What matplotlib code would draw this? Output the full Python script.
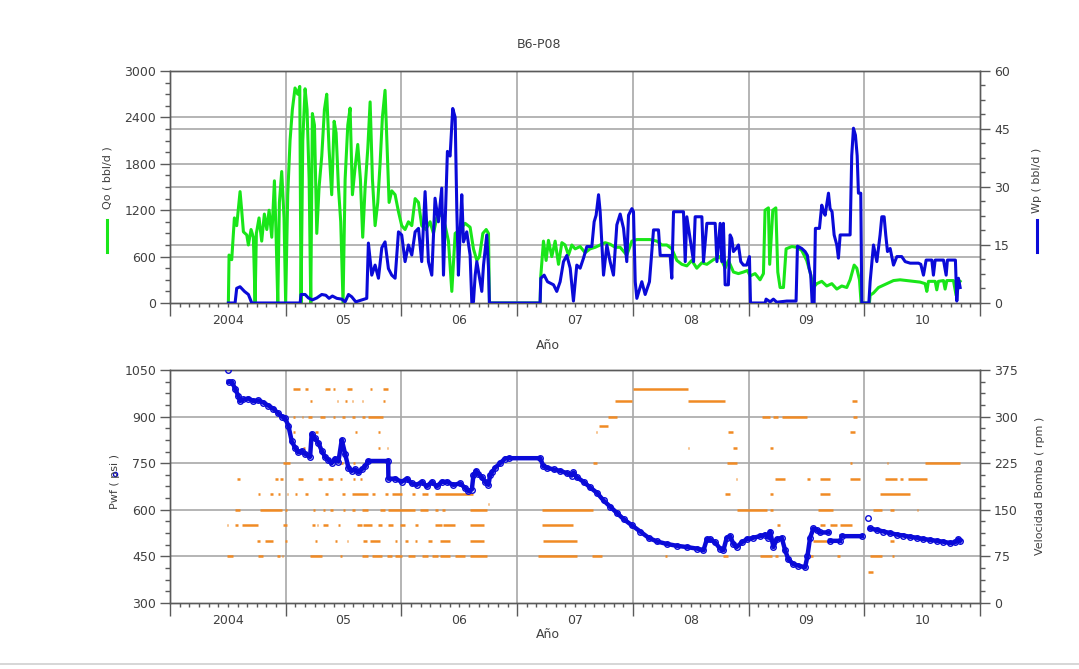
import numpy as np
import matplotlib
matplotlib.use('Agg')
import matplotlib.pyplot as plt
from matplotlib.ticker import FixedLocator, MultipleLocator, AutoMinorLocator, NullFormatter
from matplotlib.lines import Line2D
import matplotlib.transforms as mtransforms

plt.rcParams['font.family'] = ['DejaVu Sans']

# ---------------- data ----------------
year_bounds = [2004, 2005, 2006, 2007, 2008, 2009, 2010, 2011]
year_labels = ['2004', '05', '06', '07', '08', '09', '10']

qo_ticks = [0, 600, 1200, 1800, 2400, 3000]
wp_ticks = [0, 15, 30, 45, 60]
pwf_ticks = [300, 450, 600, 750, 900, 1050]
rpm_ticks = [0, 75, 150, 225, 300, 375]

# Qo (bbl/d) - green
qo_data = [
    (2004.504, 0), (2004.510, 620), (2004.533, 560), (2004.556, 1100), (2004.576, 1000),
    (2004.605, 1440), (2004.619, 1200), (2004.634, 920), (2004.663, 880), (2004.677, 750),
    (2004.700, 950), (2004.720, 850), (2004.735, 0), (2004.746, 900), (2004.769, 1100),
    (2004.792, 800), (2004.815, 1150), (2004.836, 950), (2004.856, 1200), (2004.879, 850),
    (2004.902, 1580), (2004.916, 900), (2004.931, 0), (2004.945, 1300), (2004.965, 1700),
    (2004.985, 1100), (2004.999, 0), (2005.017, 1400), (2005.037, 2100), (2005.057, 2500),
    (2005.080, 2780), (2005.103, 2700), (2005.121, 2800), (2005.132, 0), (2005.147, 2100),
    (2005.167, 2770), (2005.184, 2500), (2005.202, 1600), (2005.216, 0), (2005.230, 2450),
    (2005.248, 2300), (2005.268, 900), (2005.288, 1500), (2005.311, 1900), (2005.334, 2500),
    (2005.354, 2700), (2005.374, 2000), (2005.397, 1400), (2005.418, 2350), (2005.435, 2200),
    (2005.455, 1500), (2005.475, 1050), (2005.495, 0), (2005.513, 1600), (2005.536, 2300),
    (2005.556, 2520), (2005.576, 1400), (2005.599, 1750), (2005.622, 2050), (2005.645, 1600),
    (2005.665, 850), (2005.686, 1500), (2005.709, 2000), (2005.729, 2600), (2005.749, 1600),
    (2005.772, 1000), (2005.795, 1300), (2005.815, 1800), (2005.835, 2400), (2005.858, 2750),
    (2005.876, 2000), (2005.893, 1300), (2005.916, 1450), (2005.945, 1400), (2005.974, 1180),
    (2006.002, 1000), (2006.031, 950), (2006.060, 1050), (2006.089, 1000), (2006.118, 1350),
    (2006.147, 1300), (2006.175, 1000), (2006.210, 950), (2006.247, 1050), (2006.276, 900),
    (2006.305, 1100), (2006.348, 1150), (2006.377, 1000), (2006.406, 800), (2006.435, 150),
    (2006.464, 900), (2006.507, 950), (2006.550, 1030), (2006.593, 980), (2006.622, 700),
    (2006.651, 550), (2006.674, 600), (2006.703, 900), (2006.732, 950), (2006.752, 900),
    (2006.760, 0), (2007.198, 0), (2007.204, 350), (2007.227, 800), (2007.250, 550),
    (2007.270, 810), (2007.299, 600), (2007.328, 800), (2007.357, 500), (2007.386, 780),
    (2007.414, 750), (2007.443, 620), (2007.472, 750), (2007.501, 700), (2007.544, 730),
    (2007.587, 650), (2007.630, 700), (2007.674, 720), (2007.717, 750), (2007.760, 780),
    (2007.803, 760), (2007.847, 720), (2007.890, 720), (2007.947, 620), (2007.991, 800),
    (2008.034, 820), (2008.091, 820), (2008.149, 820), (2008.207, 800), (2008.250, 750),
    (2008.293, 750), (2008.336, 700), (2008.380, 550), (2008.423, 500), (2008.466, 480),
    (2008.509, 550), (2008.552, 450), (2008.596, 520), (2008.639, 500), (2008.696, 560),
    (2008.753, 600), (2008.797, 450), (2008.825, 550), (2008.869, 400), (2008.912, 380),
    (2008.955, 400), (2008.990, 420), (2009.013, 350), (2009.056, 380), (2009.099, 300),
    (2009.128, 380), (2009.142, 1200), (2009.171, 1230), (2009.182, 500), (2009.209, 1200),
    (2009.235, 1230), (2009.252, 400), (2009.272, 200), (2009.301, 200), (2009.324, 700),
    (2009.373, 730), (2009.416, 720), (2009.459, 680), (2009.502, 550), (2009.531, 400),
    (2009.560, 200), (2009.589, 250), (2009.632, 280), (2009.675, 220), (2009.719, 250),
    (2009.762, 180), (2009.805, 220), (2009.848, 200), (2009.877, 300), (2009.912, 490),
    (2009.935, 450), (2009.958, 300), (2009.972, 0), (2010.044, 0), (2010.050, 100),
    (2010.079, 130), (2010.122, 200), (2010.165, 230), (2010.208, 260), (2010.252, 290),
    (2010.309, 300), (2010.367, 290), (2010.424, 280), (2010.482, 270), (2010.525, 250),
    (2010.540, 150), (2010.554, 280), (2010.612, 280), (2010.626, 170), (2010.640, 280),
    (2010.684, 290), (2010.698, 180), (2010.713, 290), (2010.770, 290), (2010.793, 100),
    (2010.813, 250), (2010.828, 280),
]

# Wp (bbl/d) - blue
wp_data = [
    (2004.504, 0), (2004.562, 0), (2004.576, 3.8), (2004.605, 4.2), (2004.643, 3.0),
    (2004.677, 2.2), (2004.706, 0), (2005.124, 0), (2005.132, 2.2), (2005.167, 2.2),
    (2005.196, 1.3), (2005.230, 0.8), (2005.268, 1.3), (2005.311, 2.2), (2005.346, 2.0),
    (2005.374, 1.2), (2005.403, 1.8), (2005.441, 1.2), (2005.484, 1.0), (2005.513, 0.3),
    (2005.542, 2.2), (2005.570, 1.6), (2005.605, 0.3), (2005.657, 0.8), (2005.700, 1.2),
    (2005.714, 15.5), (2005.743, 7.2), (2005.772, 9.8), (2005.801, 6.4), (2005.830, 14.3),
    (2005.858, 15.8), (2005.887, 8.9), (2005.916, 7.2), (2005.945, 6.4), (2005.974, 18.4),
    (2006.002, 17.6), (2006.031, 10.7), (2006.060, 15.0), (2006.089, 12.4), (2006.118, 18.4),
    (2006.147, 19.3), (2006.175, 10.7), (2006.204, 28.8), (2006.233, 10.7), (2006.262, 7.2),
    (2006.290, 27.1), (2006.319, 21.0), (2006.348, 29.7), (2006.363, 7.2), (2006.397, 39.2),
    (2006.420, 38.0), (2006.443, 50.3), (2006.464, 48.0), (2006.478, 24.4), (2006.492, 7.2),
    (2006.507, 18.4), (2006.521, 28.0), (2006.536, 15.8), (2006.564, 18.4), (2006.593, 12.4),
    (2006.608, 0), (2006.622, 0.3), (2006.637, 7.2), (2006.651, 10.7), (2006.680, 5.5),
    (2006.694, 3.0), (2006.709, 9.8), (2006.737, 17.6), (2006.752, 9.0), (2006.760, 0),
    (2007.198, 0), (2007.204, 6.4), (2007.233, 7.2), (2007.262, 5.5), (2007.314, 4.7),
    (2007.342, 3.0), (2007.371, 5.5), (2007.400, 10.7), (2007.429, 12.3), (2007.458, 9.0),
    (2007.486, 0.5), (2007.515, 9.8), (2007.544, 9.0), (2007.573, 11.6), (2007.602, 14.6),
    (2007.645, 14.6), (2007.665, 21.0), (2007.682, 22.7), (2007.703, 28.0), (2007.717, 23.6),
    (2007.746, 7.2), (2007.775, 15.0), (2007.803, 10.7), (2007.832, 7.2), (2007.861, 20.2),
    (2007.890, 23.0), (2007.919, 19.3), (2007.947, 10.7), (2007.962, 22.7), (2007.991, 24.4),
    (2008.005, 23.6), (2008.020, 5.5), (2008.034, 1.2), (2008.077, 5.5), (2008.106, 2.2),
    (2008.143, 5.5), (2008.178, 18.9), (2008.221, 18.9), (2008.236, 12.3), (2008.322, 12.3),
    (2008.336, 6.4), (2008.351, 23.6), (2008.437, 23.6), (2008.452, 10.7), (2008.466, 22.3),
    (2008.524, 10.7), (2008.538, 22.3), (2008.596, 22.3), (2008.610, 10.7), (2008.639, 20.6),
    (2008.711, 20.6), (2008.726, 10.7), (2008.754, 20.6), (2008.768, 10.7), (2008.782, 20.6),
    (2008.797, 4.7), (2008.825, 4.7), (2008.840, 17.6), (2008.854, 16.7), (2008.869, 13.3),
    (2008.892, 14.1), (2008.912, 15.0), (2008.932, 10.7), (2008.955, 9.8), (2008.984, 9.8),
    (2009.007, 12.0), (2009.016, 0), (2009.142, 0), (2009.151, 1.0), (2009.186, 0.3),
    (2009.214, 1.0), (2009.243, 0.2), (2009.330, 0.5), (2009.410, 0.5), (2009.422, 14.7),
    (2009.459, 14.1), (2009.488, 13.3), (2009.508, 12.3), (2009.523, 9.0), (2009.537, 7.2),
    (2009.549, 0), (2009.566, 0), (2009.577, 19.3), (2009.612, 19.3), (2009.632, 25.3),
    (2009.647, 23.6), (2009.661, 22.7), (2009.690, 28.4), (2009.704, 24.4), (2009.721, 23.6),
    (2009.739, 17.6), (2009.762, 15.0), (2009.776, 11.6), (2009.791, 17.6), (2009.877, 17.6),
    (2009.891, 38.1), (2009.906, 45.2), (2009.923, 43.4), (2009.938, 38.1), (2009.949, 28.4),
    (2009.969, 28.4), (2009.978, 0), (2010.039, 0), (2010.050, 5.5), (2010.079, 15.0),
    (2010.108, 10.7), (2010.136, 17.6), (2010.151, 22.3), (2010.171, 22.3), (2010.185, 17.6),
    (2010.200, 13.3), (2010.223, 14.1), (2010.252, 9.8), (2010.281, 12.0), (2010.323, 12.0),
    (2010.353, 10.7), (2010.396, 10.3), (2010.468, 10.3), (2010.488, 10.0), (2010.511, 7.2),
    (2010.534, 11.1), (2010.583, 11.1), (2010.597, 7.2), (2010.612, 11.1), (2010.684, 11.1),
    (2010.707, 7.2), (2010.718, 11.1), (2010.787, 11.1), (2010.799, 0.5), (2010.813, 6.4),
    (2010.828, 4.0),
]

# Pwf (psi) - blue circles  (nan = gap)
pwf_data = [
    (2004.500, 1050), (2004.504, np.nan), (2004.506, 1012), (2004.533, 1012), (2004.562, 990),
    (2004.591, 965), (2004.605, 950), (2004.634, 955), (2004.677, 958), (2004.720, 950),
    (2004.764, 952), (2004.807, 945), (2004.850, 935), (2004.893, 925), (2004.936, 910),
    (2004.965, 900), (2004.994, 895), (2005.023, 870), (2005.052, 820), (2005.080, 800),
    (2005.109, 785), (2005.138, 790), (2005.167, 780), (2005.210, 770), (2005.224, 845),
    (2005.253, 830), (2005.282, 815), (2005.311, 790), (2005.340, 770), (2005.369, 760),
    (2005.397, 750), (2005.426, 765), (2005.455, 755), (2005.484, 825), (2005.513, 780),
    (2005.542, 735), (2005.570, 725), (2005.599, 730), (2005.628, 720), (2005.657, 730),
    (2005.686, 740), (2005.714, 757), (2005.885, 757), (2005.887, 700), (2005.945, 700),
    (2006.002, 690), (2006.046, 700), (2006.089, 685), (2006.132, 680), (2006.175, 690),
    (2006.218, 675), (2006.262, 690), (2006.305, 675), (2006.348, 690), (2006.392, 690),
    (2006.449, 680), (2006.507, 685), (2006.550, 670), (2006.579, 660), (2006.608, 665),
    (2006.622, 712), (2006.645, 725), (2006.665, 715), (2006.694, 705), (2006.723, 690),
    (2006.752, 680), (2006.766, 712), (2006.781, 720), (2006.809, 735), (2006.853, 750),
    (2006.896, 765), (2006.925, 766), (2007.198, 766), (2007.227, 740), (2007.256, 735),
    (2007.314, 730), (2007.371, 725), (2007.429, 718), (2007.472, 710), (2007.486, 720),
    (2007.515, 705), (2007.573, 690), (2007.630, 672), (2007.688, 655), (2007.746, 630),
    (2007.803, 610), (2007.861, 590), (2007.919, 570), (2007.991, 550), (2008.063, 530),
    (2008.135, 510), (2008.207, 498), (2008.293, 490), (2008.380, 484), (2008.466, 480),
    (2008.552, 475), (2008.610, 470), (2008.639, 505), (2008.667, 505), (2008.710, 495),
    (2008.753, 475), (2008.782, 470), (2008.811, 510), (2008.840, 515), (2008.869, 490),
    (2008.897, 480), (2008.941, 495), (2008.984, 505), (2009.041, 510), (2009.099, 515),
    (2009.142, 520), (2009.171, 510), (2009.186, 530), (2009.214, 480), (2009.243, 505),
    (2009.286, 510), (2009.315, 470), (2009.344, 440), (2009.387, 425), (2009.430, 420),
    (2009.488, 415), (2009.508, 450), (2009.531, 510), (2009.560, 540), (2009.589, 535),
    (2009.618, 527), (2009.690, 527), (2009.700, np.nan), (2009.704, 500), (2009.791, 500),
    (2009.798, np.nan), (2009.805, 515), (2009.978, 515), (2010.000, np.nan), (2010.035, 575),
    (2010.042, np.nan), (2010.050, 540), (2010.108, 535), (2010.165, 530), (2010.223, 525),
    (2010.281, 520), (2010.338, 517), (2010.396, 513), (2010.453, 510), (2010.511, 506),
    (2010.568, 503), (2010.626, 500), (2010.684, 497), (2010.741, 493), (2010.784, 495),
    (2010.813, 505), (2010.828, 500),
]

# Velocidad Bomba (rpm) - orange dashes: (start year, end year) per level
vb_345 = [(2005.066, 2005.124), (2005.167, 2005.196), (2005.340, 2005.383), (2005.412, 2005.426),
          (2005.527, 2005.570), (2005.729, 2005.743), (2005.844, 2005.887), (2008.005, 2008.480)]
vb_325 = [(2005.210, 2005.224), (2005.441, 2005.455), (2005.513, 2005.527), (2005.570, 2005.585),
          (2005.657, 2005.671), (2005.844, 2005.858), (2007.847, 2007.991), (2008.480, 2008.797),
          (2009.891, 2009.935)]
vb_300 = [(2005.066, 2005.081), (2005.138, 2005.153), (2005.196, 2005.224), (2005.297, 2005.340),
          (2005.412, 2005.426), (2005.484, 2005.513), (2005.570, 2005.599), (2005.657, 2005.686),
          (2005.714, 2005.844), (2007.789, 2007.861), (2009.113, 2009.186), (2009.214, 2009.257),
          (2009.286, 2009.502), (2009.906, 2009.935)]
vb_285 = [(2007.703, 2007.789)]
vb_275 = [(2005.066, 2005.081), (2005.253, 2005.282), (2005.599, 2005.614), (2005.801, 2005.815),
          (2007.684, 2007.692), (2008.825, 2008.869), (2009.877, 2009.920)]
vb_250 = [(2005.153, 2005.167), (2005.484, 2005.498), (2005.801, 2005.815), (2005.873, 2005.887),
          (2008.476, 2008.484), (2008.869, 2008.897), (2009.186, 2009.214)]
vb_225 = [(2004.980, 2005.037), (2005.469, 2005.498), (2005.585, 2005.599), (2007.659, 2007.688),
          (2008.811, 2008.897), (2009.877, 2009.891), (2010.194, 2010.208), (2010.525, 2010.828)]
vb_200 = [(2004.576, 2004.605), (2004.908, 2004.936), (2004.951, 2004.980), (2005.109, 2005.153),
          (2005.282, 2005.311), (2005.369, 2005.412), (2005.469, 2005.484), (2005.585, 2005.599),
          (2005.642, 2005.657), (2008.893, 2008.901), (2009.229, 2009.315), (2009.502, 2009.531),
          (2009.618, 2009.704), (2009.877, 2009.963), (2010.179, 2010.281), (2010.309, 2010.338),
          (2010.381, 2010.540)]
vb_175 = [(2004.764, 2004.778), (2004.865, 2004.893), (2004.936, 2004.951), (2005.008, 2005.023),
          (2005.080, 2005.095), (2005.167, 2005.196), (2005.340, 2005.369), (2005.484, 2005.513),
          (2005.570, 2005.714), (2005.743, 2005.772), (2005.858, 2005.887), (2005.916, 2006.002),
          (2006.089, 2006.118), (2006.175, 2006.233), (2006.290, 2006.622), (2008.797, 2008.840),
          (2009.186, 2009.214), (2009.618, 2009.704), (2010.136, 2010.396)]
vb_160 = [(2006.748, 2006.756)]
vb_150 = [(2004.562, 2004.605), (2004.778, 2004.965), (2004.994, 2005.008), (2005.239, 2005.253),
          (2005.326, 2005.340), (2005.383, 2005.412), (2005.498, 2005.513), (2005.570, 2005.599),
          (2005.657, 2005.714), (2005.815, 2005.858), (2005.887, 2006.118), (2006.161, 2006.233),
          (2006.290, 2006.319), (2006.348, 2006.377), (2006.593, 2006.737), (2007.213, 2007.659),
          (2008.897, 2009.157), (2009.186, 2009.214), (2009.603, 2009.733), (2010.079, 2010.151),
          (2010.223, 2010.252), (2010.453, 2010.468)]
vb_125 = [(2004.490, 2004.504), (2004.562, 2004.591), (2004.620, 2004.764), (2004.980, 2005.008),
          (2005.224, 2005.253), (2005.268, 2005.282), (2005.326, 2005.369), (2005.455, 2005.469),
          (2005.614, 2005.657), (2005.671, 2005.743), (2005.801, 2005.830), (2005.887, 2005.930),
          (2005.988, 2006.031), (2006.118, 2006.147), (2006.290, 2006.348), (2006.363, 2006.464),
          (2006.593, 2006.709), (2007.213, 2007.486), (2009.243, 2009.272), (2009.618, 2009.661),
          (2009.704, 2009.762), (2009.791, 2009.891)]
vb_100 = [(2004.749, 2004.778), (2004.821, 2004.893), (2004.994, 2005.008), (2005.253, 2005.268),
          (2005.426, 2005.441), (2005.527, 2005.542), (2005.671, 2005.700), (2005.729, 2005.815),
          (2005.945, 2005.959), (2006.031, 2006.060), (2006.118, 2006.132), (2006.233, 2006.262),
          (2006.334, 2006.420), (2006.593, 2006.709), (2007.227, 2007.515), (2009.560, 2009.675),
          (2009.690, 2009.791), (2010.223, 2010.252)]
vb_75 = [(2004.490, 2004.548), (2004.764, 2004.807), (2004.922, 2004.951), (2004.965, 2004.980),
         (2005.210, 2005.311), (2005.469, 2005.484), (2005.657, 2005.714), (2005.743, 2005.830),
         (2005.873, 2005.916), (2005.945, 2006.002), (2006.060, 2006.118), (2006.175, 2006.233),
         (2006.262, 2006.319), (2006.334, 2006.420), (2006.464, 2006.550), (2006.593, 2006.737),
         (2007.184, 2007.515), (2007.645, 2007.731), (2008.279, 2008.293), (2008.782, 2008.825),
         (2009.099, 2009.200), (2009.229, 2009.257), (2009.531, 2009.560), (2009.762, 2009.791),
         (2010.050, 2010.151), (2010.237, 2010.252)]
vb_50 = [(2010.035, 2010.079)]
vb_levels = [345, 325, 300, 285, 275, 250, 225, 200, 175, 160, 150, 125, 100, 75, 50]
vb_segments = [vb_345, vb_325, vb_300, vb_285, vb_275, vb_250, vb_225, vb_200, vb_175,
               vb_160, vb_150, vb_125, vb_100, vb_75, vb_50]

# ---------------- style ----------------
GREEN = '#19e619'
BLUE = '#0a0ad8'
ORANGE = '#f08a24'
GRID = '#a8a8a8'
SPINE = '#5a5a5a'
TXT = '#404040'

fig = plt.figure(figsize=(10.79, 6.69), dpi=100)
fig.patch.set_facecolor('white')

ax_top = fig.add_axes([0.1576, 0.5471, 0.7507, 0.3468])
ax_bot = fig.add_axes([0.1576, 0.0987, 0.7507, 0.3483])


def style_x(ax):
    ax.set_xlim(year_bounds[0], year_bounds[-1])
    ax.xaxis.set_major_locator(FixedLocator(year_bounds))
    ax.xaxis.set_major_formatter(NullFormatter())
    ax.xaxis.set_minor_locator(MultipleLocator(1 / 12))
    ax.tick_params(axis='x', which='major', direction='out', length=9, width=1, color=SPINE)
    ax.tick_params(axis='x', which='minor', direction='out', length=3, width=1, color=SPINE)
    sec = ax.secondary_xaxis('bottom')
    sec.set_xticks([y + 0.5 for y in year_bounds[:-1]], labels=year_labels)
    sec.tick_params(length=0, pad=8, labelsize=9, labelcolor=TXT)
    sec.spines['bottom'].set_visible(False)


def style_y(ax, ticks):
    ax.set_ylim(ticks[0], ticks[-1])
    ax.set_yticks(ticks)
    ax.yaxis.set_minor_locator(AutoMinorLocator(4))
    ax.tick_params(axis='y', which='major', direction='out', length=7, width=1, color=SPINE,
                   labelsize=9, labelcolor=TXT, pad=3)
    ax.tick_params(axis='y', which='minor', direction='out', length=3.5, width=1, color=SPINE)
    for s in ax.spines.values():
        s.set_color(SPINE)
        s.set_linewidth(1.0)


for ax in (ax_top, ax_bot):
    style_x(ax)

# ---------------- top panel ----------------
style_y(ax_top, qo_ticks)
ax_top2 = ax_top.twinx()
style_y(ax_top2, wp_ticks)

for yb in year_bounds[1:-1]:
    ax_top.axvline(yb, color=GRID, lw=1.2, zorder=0.5)
for v in qo_ticks[1:-1]:
    ax_top.axhline(v, color=GRID, lw=1.2, zorder=0.5)
blend = mtransforms.blended_transform_factory(ax_top.transAxes, ax_top2.transData)
for v in wp_ticks[1:-1]:
    ax_top.plot([0, 1], [v, v], transform=blend, color=GRID, lw=1.2, zorder=0.5)

qo_year = [p[0] for p in qo_data]
qo_val = [p[1] for p in qo_data]
wp_year = [p[0] for p in wp_data]
wp_val = [p[1] for p in wp_data]
ax_top.plot(qo_year, qo_val, color=GREEN, lw=2.2, zorder=2)
ax_top2.plot(wp_year, wp_val, color=BLUE, lw=2.2, zorder=3)

# ---------------- bottom panel ----------------
style_y(ax_bot, pwf_ticks)
ax_bot2 = ax_bot.twinx()
style_y(ax_bot2, rpm_ticks)

# orange (right axis) behind, Pwf (left axis) in front
ax_bot.set_zorder(ax_bot2.get_zorder() + 1)
ax_bot.patch.set_visible(False)

for yb in year_bounds[1:-1]:
    ax_bot2.axvline(yb, color=GRID, lw=1.2, zorder=0.5)
for v in rpm_ticks[1:-1]:
    ax_bot2.axhline(v, color=GRID, lw=1.2, zorder=0.5)

for lvl, segs in zip(vb_levels, vb_segments):
    ax_bot2.hlines([lvl] * len(segs), [s[0] for s in segs], [s[1] for s in segs],
                   color=ORANGE, lw=1.8, zorder=2)

pwf_year = [p[0] for p in pwf_data]
pwf_val = [p[1] for p in pwf_data]
ax_bot.plot(pwf_year, pwf_val, color=BLUE, lw=3.2, zorder=3, marker='o', ms=4,
            mfc='none', mec=BLUE, mew=1.0)

# ---------------- texts ----------------
fig.text(0.5, 0.933, 'B6-P08', ha='center', va='center', fontsize=9, color=TXT)
fig.text(0.508, 0.484, 'Año', ha='center', va='center', fontsize=9, color=TXT)
fig.text(0.508, 0.051, 'Año', ha='center', va='center', fontsize=9, color=TXT)

fig.text(0.0992, 0.735, 'Qo ( bbl/d )', rotation=90, ha='center', va='center', fontsize=8, color=TXT)
fig.add_artist(Line2D([0.0992, 0.0992], [0.623, 0.671], color=GREEN, lw=2.2,
                      transform=fig.transFigure))
fig.text(0.961, 0.730, 'Wp ( bbl/d )', rotation=90, ha='center', va='center', fontsize=8, color=TXT)
fig.add_artist(Line2D([0.961, 0.961], [0.623, 0.671], color=BLUE, lw=2.2,
                      transform=fig.transFigure))
fig.text(0.1066, 0.281, 'Pwf ( psi )', rotation=90, ha='center', va='center', fontsize=8, color=TXT)
fig.add_artist(Line2D([0.1066], [0.292], color=BLUE, marker='o', ms=3, mfc='none', mew=1,
                      transform=fig.transFigure))
fig.text(0.964, 0.2735, 'Velocidad Bomba ( rpm )', rotation=90, ha='center', va='center',
         fontsize=8, color=TXT)

# faint frame line at the bottom of the picture
fig.add_artist(Line2D([0, 1], [0.008, 0.008], color='#cfcfcf', lw=1.2, transform=fig.transFigure))

fig.savefig('out.png', dpi=100, facecolor='white')
